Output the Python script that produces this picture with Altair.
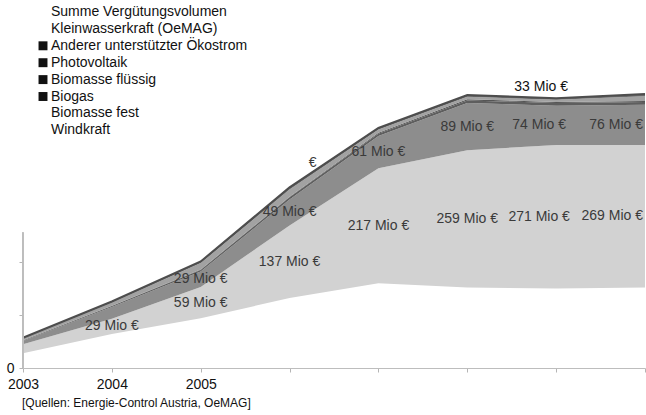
import altair as alt
import pandas as pd

# Ökostrom-Vergütungsvolumen in Mio €, 2003-2010
years = [2003, 2004, 2005, 2006, 2007, 2008, 2009, 2010]
windkraft = [28, 64, 94, 132, 160, 152, 150, 152]
biomasse_fest = [17, 29, 59, 137, 217, 259, 271, 269]
biogas = [6, 22, 29, 49, 61, 89, 74, 76]
biomasse_fluessig = [1, 2, 3, 4, 4, 5, 5, 5]
photovoltaik = [0.5, 0.5, 1, 1, 2, 2, 2, 2]
anderer = [3, 6, 12, 14, 6, 5, 4, 9]
kleinwasserkraft = [1.5, 2, 3, 4, 3, 3, 3, 4]

# stacking order, bottom to top
series_names = [
    "Windkraft",
    "Biomasse fest",
    "Biogas",
    "Biomasse flüssig",
    "Photovoltaik",
    "Anderer unterstützter Ökostrom",
    "Kleinwasserkraft (OeMAG)",
]
series_values = [windkraft, biomasse_fest, biogas, biomasse_fluessig,
                 photovoltaik, anderer, kleinwasserkraft]
series_colors = ["#ffffff", "#d2d2d2", "#8d8d8d", "#5e5e5e",
                 "#555555", "#a2a2a2", "#6a6a6a"]

legend_rows = [
    "Summe Vergütungsvolumen",
    "Kleinwasserkraft (OeMAG)",
    "Anderer unterstützter Ökostrom",
    "Photovoltaik",
    "Biomasse flüssig",
    "Biogas",
    "Biomasse fest",
    "Windkraft",
]
legend_with_swatch = ["Anderer unterstützter Ökostrom", "Photovoltaik",
                      "Biomasse flüssig", "Biogas"]

top_note = "33 Mio €"
source_note = "[Quellen: Energie-Control Austria, OeMAG]"

rows = []
for k, (name, vals) in enumerate(zip(series_names, series_values)):
    for y, v in zip(years, vals):
        rows.append({"year": y, "series": name, "value": v, "order": k})
df = pd.DataFrame(rows)

legend_df = pd.DataFrame({
    "name": legend_rows,
    "row": list(range(len(legend_rows))),
    "swatch": [n in legend_with_swatch for n in legend_rows],
})

FONT = "Liberation Sans"

x_enc = alt.X(
    "year:Q",
    scale=alt.Scale(domain=[2003, 2010], nice=False, zero=False),
    axis=alt.Axis(
        values=years, title=None, grid=False,
        labelExpr="datum.value <= 2005 ? format(datum.value, 'd') : ''",
        labelFlush=False, labelFontSize=14, labelColor="#111111", labelFont=FONT,
        labelPadding=5, tickSize=4, tickColor="#b5b5b5",
        domainColor="#bdbdbd", domainWidth=1,
    ),
)
y_scale = alt.Scale(domain=[0, 685], nice=False)
y_enc = alt.Y(
    "value:Q", stack="zero", scale=y_scale,
    axis=alt.Axis(
        values=[0, 100, 200], title=None, grid=False, domain=False,
        labelExpr="datum.value == 0 ? '0' : ''",
        labelFontSize=14, labelColor="#111111", labelFont=FONT,
        labelPadding=5, tickSize=4, tickColor="#b5b5b5",
    ),
)

base = alt.Chart(df)

areas = base.mark_area(interpolate="linear").encode(
    x=x_enc,
    y=y_enc,
    color=alt.Color("series:N",
                    scale=alt.Scale(domain=series_names, range=series_colors),
                    legend=None),
    order=alt.Order("order:Q"),
)

totals = base.transform_aggregate(total="sum(value)", groupby=["year"])

total_line = totals.mark_line(color="#4d4d4d", strokeWidth=2).encode(
    x="year:Q", y=alt.Y("total:Q", scale=y_scale)
)

y_axis_line = alt.Chart(df).mark_rule(color="#bdbdbd").encode(
    x=alt.value(0), y=alt.datum(0), y2=alt.datum(255)
)

# value labels in the middle of each band
stacked = base.transform_stack(
    stack="value", groupby=["year"], as_=["v0", "v1"],
    sort=[alt.SortField("order", order="ascending")],
).transform_calculate(
    mid="(datum.v0 + datum.v1) / 2",
    label="format(datum.value, 'd') + ' Mio €'",
).transform_filter(
    "(datum.series == 'Biomasse fest' && datum.year >= 2004) || "
    "(datum.series == 'Biogas' && datum.year >= 2005)"
)

label_style = dict(fontSize=14, font=FONT, color="#3a3a3a")
label_enc = dict(x="year:Q", y=alt.Y("mid:Q", scale=y_scale), text="label:N")

labels_mid = stacked.transform_filter("datum.year <= 2008").mark_text(
    align="center", baseline="middle", **label_style).encode(**label_enc)
labels_2009 = stacked.transform_filter("datum.year == 2009").mark_text(
    align="center", baseline="middle", dx=-17, **label_style).encode(**label_enc)
labels_2010 = stacked.transform_filter("datum.year == 2010").mark_text(
    align="right", baseline="middle", dx=-2, **label_style).encode(**label_enc)

note_2009 = totals.transform_filter("datum.year == 2009").transform_calculate(
    t=f"'{top_note}'"
).mark_text(align="center", baseline="middle", dx=-15, dy=-11,
            fontSize=14, font=FONT, color="#111111").encode(
    x="year:Q", y=alt.Y("total:Q", scale=y_scale), text="t:N")

note_2006 = totals.transform_filter("datum.year == 2006").transform_calculate(
    t="'€'"
).mark_text(align="center", baseline="middle", dx=23, dy=-24,
            fontSize=14, font=FONT, color="#3a3a3a").encode(
    x="year:Q", y=alt.Y("total:Q", scale=y_scale), text="t:N")

# legend block in the upper left corner
legend_base = alt.Chart(legend_df).transform_calculate(py="7 + datum.row * 16.9")
legend_text = legend_base.mark_text(
    align="left", baseline="middle", fontSize=14, font=FONT, color="#111111"
).encode(x=alt.value(28), y=alt.Y("py:Q", scale=None, axis=None), text="name:N")
legend_swatch = legend_base.transform_filter("datum.swatch").mark_square(
    size=80, filled=True, color="#111111", opacity=1
).encode(x=alt.value(20), y=alt.Y("py:Q", scale=None, axis=None))

source = alt.Chart(pd.DataFrame({"t": [source_note]})).mark_text(
    align="left", baseline="middle", fontSize=12, font=FONT, color="#111111"
).encode(x=alt.value(-1), y=alt.value(398), text="t:N")

chart = alt.layer(
    areas, total_line, y_axis_line, labels_mid, labels_2009, labels_2010,
    note_2009, note_2006, legend_swatch, legend_text, source,
).properties(
    width=622, height=363,
    autosize=alt.AutoSizeParams(type="none"),
    padding={"left": 23, "top": 5, "right": 1, "bottom": 47},
    background="white",
).configure_view(stroke=None)

chart.save("out.html", embed_options={"renderer": "svg", "actions": False})
